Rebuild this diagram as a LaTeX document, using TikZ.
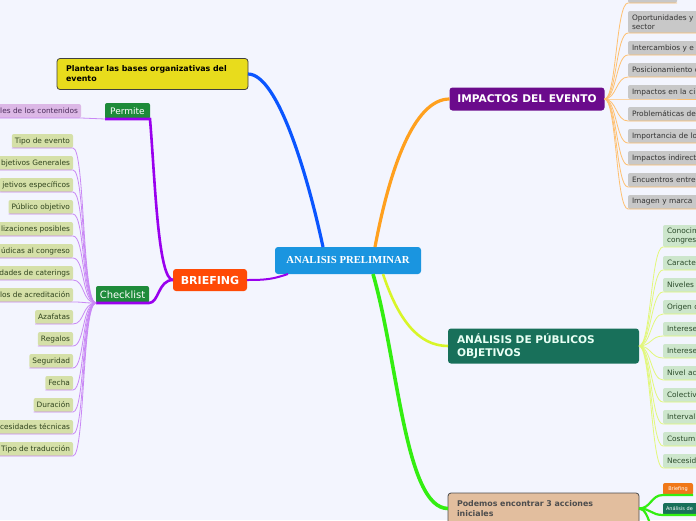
\documentclass[tikz,border=0pt]{standalone}
\usepackage{fontspec}
\setmainfont{DejaVu Sans}
\newfontfamily\timesb{Liberation Serif}
\definecolor{bg}{HTML}{F3F5FE}
\definecolor{cblue}{HTML}{1A95E0}
\definecolor{borange}{HTML}{FF4A06}
\definecolor{dgreen}{HTML}{1E8B3A}
\definecolor{lav}{HTML}{DCB8E6}
\definecolor{lavtext}{HTML}{4A2A5A}
\definecolor{lgreen}{HTML}{D5E0A8}
\definecolor{cltext}{HTML}{30441E}
\definecolor{yel}{HTML}{E8DC1C}
\definecolor{ipurple}{HTML}{6B0B8C}
\definecolor{lgray}{HTML}{C8C8C8}
\definecolor{gtext}{HTML}{333333}
\definecolor{teal}{HTML}{18705A}
\definecolor{tealtext}{HTML}{E8FFF4}
\definecolor{pgreen}{HTML}{CDE6CC}
\definecolor{ptext}{HTML}{2A4A2A}
\definecolor{tan}{HTML}{E2BE9E}
\definecolor{tantext}{HTML}{4D4D4D}
\definecolor{sorange}{HTML}{F07818}
\definecolor{lnblue}{HTML}{0A55FF}
\definecolor{lnorange}{HTML}{FFA01E}
\definecolor{lnorangel}{HTML}{FFC070}
\definecolor{lnyg}{HTML}{D8F528}
\definecolor{lnygl}{HTML}{E2F87A}
\definecolor{lngreen}{HTML}{33EE11}
\definecolor{lnpurple}{HTML}{9900EE}
\definecolor{lnpurplel}{HTML}{C988F5}
\begin{document}
\begin{tikzpicture}[x=1pt,y=-1pt,
  every node/.style={inner sep=0pt, outer sep=0pt},
  mainbox/.style={rounded corners=3pt, text=white},
  gbox/.style={rounded corners=2pt, fill=dgreen, text=white},
  leaf/.style={rounded corners=2pt, inner xsep=3pt, inner ysep=0pt, minimum height=14pt, font=\fontsize{7.4}{9}\selectfont},
  cleaf/.style={leaf, fill=lgreen, text=cltext, anchor=south east},
  gleaf/.style={leaf, inner xsep=4pt, fill=lgray, text=gtext, anchor=south west, text width=92pt, align=left},
  pleaf/.style={leaf, inner xsep=4pt, fill=pgreen, text=ptext, anchor=south west, text width=60pt, align=left},
  thinln/.style={line width=0.8pt},
]
\useasboundingbox[fill=bg] (0,0) rectangle (696,520);

% main nodes
\node[mainbox, fill=cblue, minimum width=146pt, minimum height=27pt, font=\timesb\bfseries\fontsize{10.7}{12}\selectfont] (c) at (348,260.5) {ANALISIS PRELIMINAR};
\node[mainbox, fill=borange, minimum width=74pt, minimum height=22pt, font=\bfseries\fontsize{11}{12}\selectfont] (br) at (210,280) {BRIEFING};
\node[gbox, minimum width=45pt, minimum height=16pt, font=\fontsize{9}{10}\selectfont] (perm) at (127.5,111) {Permite};
\node[gbox, minimum width=53pt, minimum height=17pt, font=\fontsize{10}{11}\selectfont] (chk) at (122.5,294.5) {Checklist};
\node[leaf, fill=lav, text=lavtext, anchor=south east] (cont) at (81,118) {les de los contenidos};
\node[rounded corners=3pt, fill=yel, draw=black!75, line width=0.8pt, minimum width=191pt, minimum height=31pt, text width=173pt, align=left, inner xsep=9pt, font=\bfseries\fontsize{7.9}{10}\selectfont] (tl) at (152.5,74) {Plantear las bases organizativas del\\evento};
\node[mainbox, fill=ipurple, minimum width=155pt, minimum height=23pt, font=\bfseries\fontsize{10.6}{12}\selectfont] (ie) at (527,99) {IMPACTOS DEL EVENTO};
\node[mainbox, fill=teal, text=tealtext, minimum width=191pt, minimum height=35pt, text width=173pt, align=left, inner xsep=9pt, font=\bfseries\fontsize{10.6}{13.5}\selectfont] (an) at (543.5,346) {ANÁLISIS DE PÚBLICOS\\OBJETIVOS};
\node[rounded corners=3pt, fill=tan, draw=black!70, line width=0.8pt, text=tantext, minimum width=191pt, minimum height=31pt, text width=173pt, align=left, inner xsep=9pt, font=\bfseries\fontsize{7.9}{9.5}\selectfont] (pod) at (543.5,508.5) {Podemos encontrar 3 acciones\\iniciales};

% main branches
\draw[lnblue, line width=3.2pt] (tl.east) .. controls +(30,0) and +(-15,-70) .. ([xshift=-25pt]c.north);
\draw[lnorange, line width=3.2pt] ([xshift=27pt]c.north) .. controls +(15,-80) and +(-35,0) .. (ie.west);
\draw[lnyg, line width=2.6pt] ([xshift=35pt]c.south) .. controls +(15,45) and +(-30,0) .. (an.west);
\draw[lngreen, line width=3.6pt] ([xshift=25pt]c.south) .. controls +(25,86) and +(-43,0) .. (pod.west);
\draw[lnpurple, line width=2pt] ([xshift=-60pt]c.south) .. controls +(-15,5) and +(20,0) .. (br.east);

% briefing branches
\draw[lnpurple, line width=2.6pt] (br.west) .. controls +(-15,0) and +(5,60) .. (perm.south east) -- (perm.south west);
\draw[lnpurple, line width=2.6pt] (br.west) .. controls +(-15,0) and +(10,0) .. (chk.south east) -- (chk.south west);
\draw[lnpurplel, thinln] (perm.south west) .. controls +(-12,0) and +(12,0) .. (cont.south east) -- (cont.south west);

% checklist children
\foreach \t [count=\i] in {Tipo de evento, bjetivos Generales, jetivos específicos, Público objetivo, lizaciones posibles, údicas al congreso, dades de caterings, los de acreditación, Azafatas, Regalos, Seguridad, Fecha, Duración, cesidades técnicas, Tipo de traducción} {
  \node[cleaf] (ch\i) at (73,126+22*\i) {\t};
  \draw[lnpurplel, thinln] (chk.south west) .. controls +(-14,0) and +(12,0) .. (ch\i.south east) -- (ch\i.south west);
}

% impactos children
\node[leaf, fill=lgray, anchor=south west, minimum width=49pt] (g0) at (628,3) {};
\node[gleaf, minimum height=22pt] (g1) at (628,33) {Oportunidades y\\sector};
\foreach \t [count=\i from 2] in {Intercambios y e, Posicionamiento d, Impactos en la ci, Problemáticas de, Importancia de lo, Impactos indirect, Encuentros entre, Imagen y marca} {
  \node[gleaf] (g\i) at (628,11+22*\i) {\t};
}
\foreach \i in {0,...,9} {
  \draw[lnorangel, thinln] (ie.east) .. controls +(12,0) and +(-12,0) .. (g\i.south west) -- (g\i.south east);
}

% publicos children
\node[pleaf, minimum height=22pt] (p1) at (663,247) {Conocim\\congres};
\foreach \t [count=\i from 2] in {Caracte, Niveles, Origen d, Interese, Interese, Nivel ac, Colectiv, Interval, Costum, Necesid} {
  \node[pleaf] (p\i) at (663,226+22*\i) {\t};
}
\foreach \i in {1,...,11} {
  \draw[lnygl, thinln] (an.east) .. controls +(12,0) and +(-12,0) .. (p\i.south west) -- (p\i.south east);
}

% podemos children
\node[rounded corners=2pt, fill=sorange, text=white, minimum width=30pt, minimum height=12pt, font=\fontsize{5}{6}\selectfont] (b1) at (678,489) {Briefing};
\node[rounded corners=2pt, fill=teal, text=white, anchor=south west, minimum height=12pt, text width=40pt, inner xsep=3pt, align=left, font=\fontsize{5}{6}\selectfont] (b2) at (663,515) {Análisis de};
\coordinate (b3) at (663,545);
\draw[lngreen, line width=2.2pt] (pod.east) .. controls +(12,0) and +(-12,0) .. (b1.south west) -- (b1.south east);
\draw[lngreen, line width=2.2pt] (pod.east) .. controls +(12,0) and +(-12,0) .. (b2.south west) -- (b2.south east);
\draw[lngreen, line width=2.2pt] (pod.east) .. controls +(12,0) and +(-12,0) .. (b3);
\end{tikzpicture}
\end{document}
